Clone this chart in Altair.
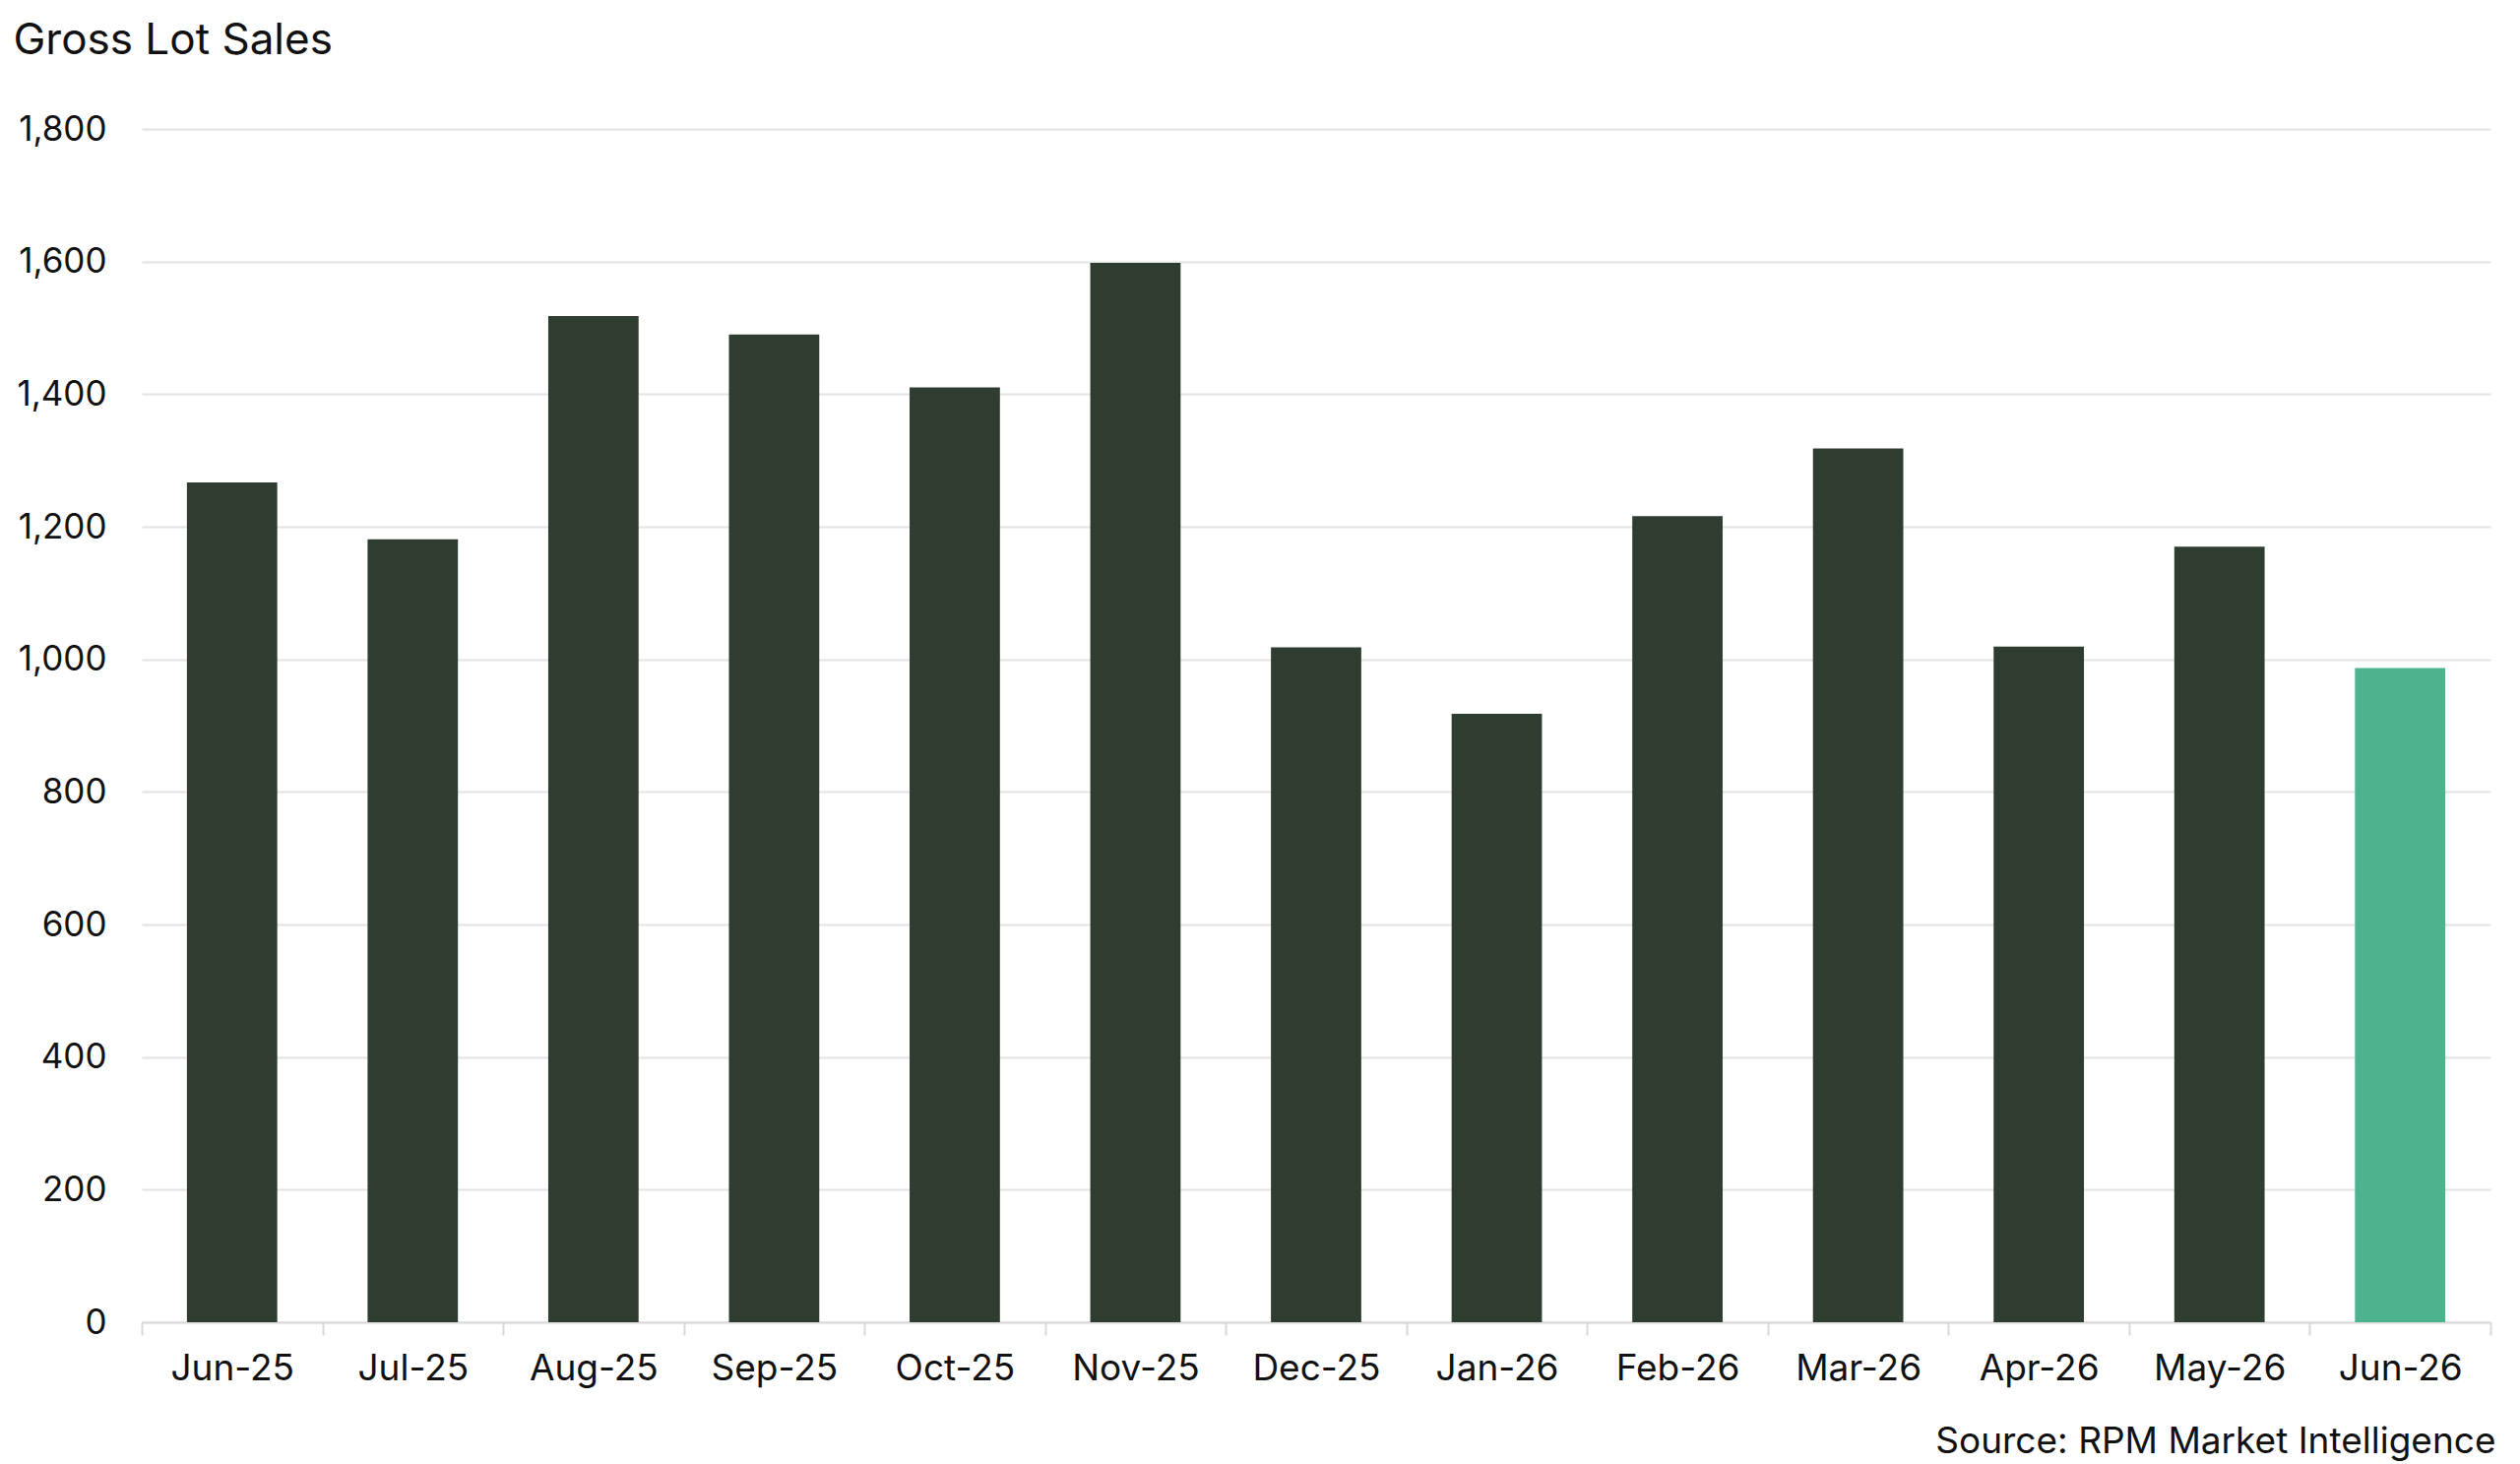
import altair as alt
import pandas as pd

months = ["Jun-25", "Jul-25", "Aug-25", "Sep-25", "Oct-25", "Nov-25", "Dec-25",
          "Jan-26", "Feb-26", "Mar-26", "Apr-26", "May-26", "Jun-26"]
sales = [1267, 1181, 1518, 1490, 1410, 1598, 1018, 918, 1216, 1318, 1019, 1170, 987]
highlight = ["past"] * 12 + ["current"]
y_ticks = [0, 200, 400, 600, 800, 1000, 1200, 1400, 1600, 1800]

df = pd.DataFrame({"month": months, "sales": sales, "kind": highlight})

FONT = "Inter"

chart = alt.Chart(df).mark_bar(width=alt.RelativeBandSize(0.5)).encode(
    x=alt.X(
        "month:N",
        sort=months,
        scale=alt.Scale(paddingInner=0, paddingOuter=0),
        axis=alt.Axis(
            title="Source: RPM Market Intelligence",
            titleAnchor="end",
            titleAlign="right",
            titleBaseline="alphabetic",
            titleX=2391,
            titleY=132,
            titleFont=FONT,
            titleFontSize=37,
            titleFontWeight="normal",
            titleColor="#111111",
            labelAngle=0,
            labelFont=FONT,
            labelFontSize=37,
            labelColor="#111111",
            labelPadding=16,
            tickBand="extent",
            tickSize=13,
            tickColor="#d9d9d9",
            tickWidth=2,
            domainColor="#d9d9d9",
            domainWidth=2,
            grid=False,
        ),
    ),
    y=alt.Y(
        "sales:Q",
        scale=alt.Scale(domain=[0, 1800], nice=False),
        axis=alt.Axis(
            values=y_ticks,
            format=",d",
            title="Gross Lot Sales",
            titleAngle=0,
            titleAlign="left",
            titleBaseline="alphabetic",
            titleX=-131,
            titleY=-77,
            titleFont=FONT,
            titleFontSize=44,
            titleFontWeight="normal",
            titleColor="#111111",
            labelFont=FONT,
            labelFontSize=35,
            labelColor="#111111",
            labelPadding=36,
            ticks=False,
            domain=False,
            grid=True,
            gridColor="#e3e3e3",
            gridWidth=2,
        ),
    ),
    color=alt.Color(
        "kind:N",
        scale=alt.Scale(domain=["past", "current"], range=["#2e3d2f", "#4db38d"]),
        legend=None,
    ),
).properties(
    width=2386,
    height=1212,
    background="white",
    padding={"left": 136, "top": 123, "right": 12, "bottom": 143},
    autosize=alt.AutoSizeParams(type="none"),
).configure_view(strokeWidth=0, stroke="transparent")

chart.save("out.html", embed_options={"renderer": "svg", "actions": False})
